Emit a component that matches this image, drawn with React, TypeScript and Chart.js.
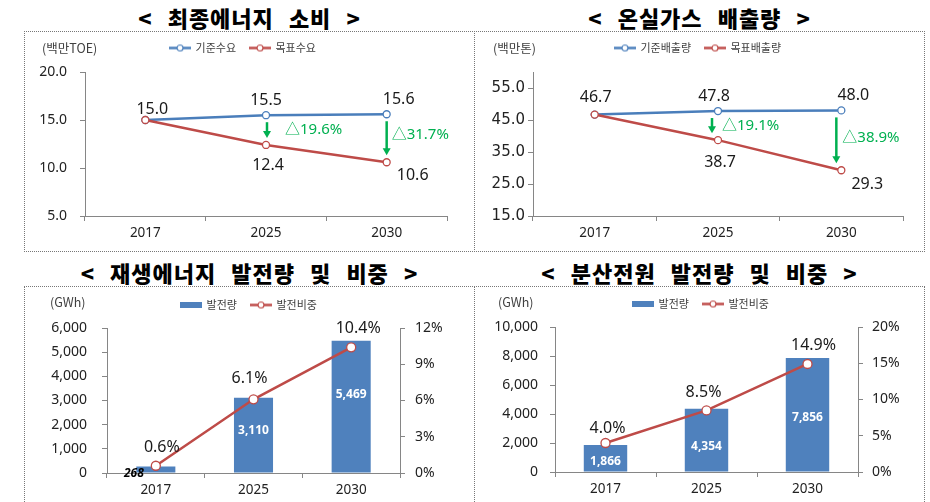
import React, { useEffect, useRef } from 'react';
import { Chart, registerables } from 'chart.js';

Chart.register(...registerables);

// ---------------- data ----------------
const years = ['2017', '2025', '2030'];

const energyTitle = '< 최종에너지 소비 >';
const energyUnit = '(백만TOE)';
const energySeries = ['기준수요', '목표수요'];
const energyBase = [15.0, 15.5, 15.6];
const energyTarget = [15.0, 12.4, 10.6];
const energyCut = ['', '△19.6%', '△31.7%'];
const energyRange = [5, 20];
const energyTicks = [5, 10, 15, 20];

const ghgTitle = '< 온실가스 배출량 >';
const ghgUnit = '(백만톤)';
const ghgSeries = ['기준배출량', '목표배출량'];
const ghgBase = [46.7, 47.8, 48.0];
const ghgTarget = [46.7, 38.7, 29.3];
const ghgCut = ['', '△19.1%', '△38.9%'];
const ghgRange = [15, 60];
const ghgTicks = [15, 25, 35, 45, 55];

const genUnit = '(GWh)';
const genSeries = ['발전량', '발전비중'];

const renewTitle = '< 재생에너지 발전량 및 비중 >';
const renewGen = [268, 3110, 5469];
const renewShare = [0.6, 6.1, 10.4];
const renewGenTicks = [0, 1000, 2000, 3000, 4000, 5000, 6000];
const renewShareTicks = [0, 3, 6, 9, 12];

const distTitle = '< 분산전원 발전량 및 비중 >';
const distGen = [1866, 4354, 7856];
const distShare = [4.0, 8.5, 14.9];
const distGenTicks = [0, 2000, 4000, 6000, 8000, 10000];
const distShareTicks = [0, 5, 10, 15, 20];

// ---------------- styles ----------------
const FONT = '"Noto Sans", "Noto Sans CJK KR", sans-serif';
const KFONT = '"Noto Sans CJK KR", "Noto Sans", sans-serif';
const WFONT = '"DejaVu Sans", "Noto Sans", sans-serif';
const BLUE = '#4A7EBB';
const RED = '#BE4B48';
const BAR = '#4F81BD';
const GREEN = '#00B050';
const AXIS = '#868686';
const TICK = '#222222';
const LABEL = '#1a1a1a';

function lineSymbol(color: string) {
  const c = document.createElement('canvas');
  c.width = 22;
  c.height = 9;
  const g = c.getContext('2d')!;
  g.strokeStyle = color;
  g.lineWidth = 2.5;
  g.beginPath();
  g.moveTo(0, 4.5);
  g.lineTo(22, 4.5);
  g.stroke();
  g.beginPath();
  g.arc(11, 4.5, 3, 0, Math.PI * 2);
  g.fillStyle = '#fff';
  g.fill();
  g.lineWidth = 1.2;
  g.stroke();
  return c;
}

function barSymbol(color: string) {
  const c = document.createElement('canvas');
  c.width = 22;
  c.height = 6;
  const g = c.getContext('2d')!;
  g.fillStyle = color;
  g.fillRect(0, 0, 22, 6);
  return c;
}

function legendOpts(symbols: any[]) {
  return {
    display: true,
    position: 'top',
    align: 'center',
    labels: {
      usePointStyle: true,
      pointStyleWidth: 20,
      padding: 14,
      font: { family: KFONT, size: 11 },
      color: '#404040',
      sort: (a: any, b: any) => a.datasetIndex - b.datasetIndex,
      generateLabels: (chart: any) => {
        const items = (Chart as any).defaults.plugins.legend.labels.generateLabels(chart);
        items.forEach((it: any) => {
          it.pointStyle = symbols[it.datasetIndex];
        });
        return items;
      },
    },
  };
}

function makeAnnot(cfg: any) {
  return {
    id: 'annot',
    afterLayout(chart: any) {
      const lg = chart.legend;
      if (lg && cfg.legendShift) {
        const [dx, dy] = cfg.legendShift;
        lg.left += dx;
        lg.right += dx;
        lg.top += dy;
        lg.bottom += dy;
      }
    },
    afterDatasetsDraw(chart: any) {
      const ctx = chart.ctx;
      ctx.save();
      ctx.textAlign = 'center';
      ctx.textBaseline = 'middle';
      // bar value labels
      (cfg.barLabels || []).forEach((bl: any) => {
        const meta = chart.getDatasetMeta(bl.ds);
        const vals = chart.data.datasets[bl.ds].data;
        meta.data.forEach((el: any, j: number) => {
          const off = bl.offsets[j];
          if (!off) return;
          const h = el.base - el.y;
          if (h < 15) {
            ctx.font = `italic bold 12px ${FONT}`;
            ctx.fillStyle = '#000';
          } else {
            ctx.font = `bold 12px ${FONT}`;
            ctx.fillStyle = '#fff';
          }
          ctx.fillText(Number(vals[j]).toLocaleString('en-US'), el.x + off[0], (el.y + el.base) / 2 + off[1]);
        });
      });
      // point labels
      (cfg.pointLabels || []).forEach((pl: any) => {
        const meta = chart.getDatasetMeta(pl.ds);
        const vals = chart.data.datasets[pl.ds].data;
        ctx.font = `16px ${FONT}`;
        ctx.fillStyle = LABEL;
        meta.data.forEach((el: any, j: number) => {
          const off = pl.offsets[j];
          if (!off) return;
          ctx.fillText(pl.fmt(vals[j]), el.x + off[0], el.y + off[1]);
        });
      });
      // arrows
      if (cfg.arrows) {
        const a = cfg.arrows;
        const mf = chart.getDatasetMeta(a.from);
        const mt = chart.getDatasetMeta(a.to);
        a.texts.forEach((t: string, j: number) => {
          if (!t) return;
          const x = mf.data[j].x + a.dx[j];
          const y1 = mf.data[j].y + 7;
          const y2 = mt.data[j].y - 7;
          ctx.strokeStyle = GREEN;
          ctx.fillStyle = GREEN;
          ctx.lineWidth = 2.5;
          ctx.beginPath();
          ctx.moveTo(x, y1);
          ctx.lineTo(x, y2 - 6);
          ctx.stroke();
          ctx.beginPath();
          ctx.moveTo(x - 4, y2 - 7);
          ctx.lineTo(x + 4, y2 - 7);
          ctx.lineTo(x, y2);
          ctx.closePath();
          ctx.fill();
          const off = a.textOff[j];
          ctx.font = `15px ${FONT}`;
          ctx.textAlign = 'left';
          ctx.fillText(t, x + off[0], (y1 + y2) / 2 + off[1]);
          ctx.textAlign = 'center';
        });
      }
      // unit
      if (cfg.unit) {
        ctx.font = `12.5px ${KFONT}`;
        ctx.fillStyle = '#404040';
        ctx.textAlign = 'left';
        ctx.fillText(cfg.unit.text, cfg.unit.x, cfg.unit.y);
      }
      ctx.restore();
    },
  };
}

function xScale(height: number) {
  return {
    type: 'category',
    offset: true,
    grid: { display: true, drawOnChartArea: false, drawTicks: true, tickLength: 5, color: AXIS, offset: true },
    border: { display: true, color: AXIS, width: 1 },
    ticks: { font: { family: FONT, size: 13.5 }, color: TICK, padding: 4, maxRotation: 0, autoSkip: false },
    afterFit: (s: any) => {
      s.height = height;
    },
  };
}

function yScale(o: any) {
  return {
    type: 'linear',
    position: o.position,
    min: o.min,
    max: o.max,
    afterBuildTicks: (s: any) => {
      s.ticks = o.ticks.map((v: number) => ({ value: v }));
    },
    ticks: { callback: o.fmt, padding: o.pad, font: o.font || { family: FONT, size: 14 }, color: TICK, autoSkip: false },
    grid: { display: true, drawOnChartArea: false, drawTicks: true, tickLength: 5, color: AXIS },
    border: { display: true, color: AXIS, width: 1 },
    afterFit: (s: any) => {
      s.width = o.width;
    },
  };
}

function makeLineChart(o: any) {
  const symbols = [lineSymbol(BLUE), lineSymbol(RED)];
  const fmt1 = (v: number) => Number(v).toFixed(1);
  return {
    type: 'line',
    data: {
      labels: years,
      datasets: [
        {
          label: o.series[0], data: o.base, borderColor: BLUE, backgroundColor: BLUE, borderWidth: 2.5,
          pointRadius: 3.5, pointBorderWidth: 1.3, pointBackgroundColor: '#fff', pointBorderColor: BLUE, tension: 0, order: 1,
        },
        {
          label: o.series[1], data: o.target, borderColor: RED, backgroundColor: RED, borderWidth: 2.5,
          pointRadius: 3.5, pointBorderWidth: 1.3, pointBackgroundColor: '#fff', pointBorderColor: RED, tension: 0, order: 0,
        },
      ],
    },
    options: {
      responsive: false,
      animation: false,
      events: [],
      layout: { padding: o.padding },
      scales: {
        x: xScale(o.xHeight),
        y: yScale({
          position: 'left', min: o.range[0], max: o.range[1], ticks: o.ticks, fmt: fmt1, pad: o.yPad,
          width: o.yWidth, font: o.yFont,
        }),
      },
      plugins: { legend: legendOpts(symbols), tooltip: { enabled: false } },
    },
    plugins: [
      makeAnnot({
        legendShift: o.legendShift,
        unit: o.unit,
        pointLabels: [
          { ds: 0, offsets: o.baseOff, fmt: fmt1 },
          { ds: 1, offsets: o.targetOff, fmt: fmt1 },
        ],
        arrows: { from: 0, to: 1, texts: o.cut, dx: o.arrowDx, textOff: o.cutOff },
      }),
    ],
  };
}

function makeBarChart(o: any) {
  const symbols = [barSymbol(BAR), lineSymbol(RED)];
  return {
    type: 'bar',
    data: {
      labels: years,
      datasets: [
        {
          type: 'bar', label: o.series[0], data: o.gen, backgroundColor: BAR, borderWidth: 0,
          barPercentage: o.barPct, categoryPercentage: 1, yAxisID: 'y', order: 1,
        },
        {
          type: 'line', label: o.series[1], data: o.share, borderColor: RED, backgroundColor: RED, borderWidth: 2.5,
          pointRadius: 4.5, pointBorderWidth: 1.3, pointBackgroundColor: '#fff', pointBorderColor: RED,
          tension: 0, yAxisID: 'y2', order: 0,
        },
      ],
    },
    options: {
      responsive: false,
      animation: false,
      events: [],
      layout: { padding: o.padding },
      scales: {
        x: xScale(o.xHeight),
        y: yScale({
          position: 'left', min: o.genTicks[0], max: o.genTicks[o.genTicks.length - 1], ticks: o.genTicks,
          fmt: (v: number) => Number(v).toLocaleString('en-US'), pad: o.yPad, width: o.yWidth,
        }),
        y2: yScale({
          position: 'right', min: o.shareTicks[0], max: o.shareTicks[o.shareTicks.length - 1], ticks: o.shareTicks,
          fmt: (v: number) => `${v}%`, pad: o.y2Pad, width: o.y2Width,
        }),
      },
      plugins: { legend: legendOpts(symbols), tooltip: { enabled: false } },
    },
    plugins: [
      makeAnnot({
        legendShift: o.legendShift,
        unit: o.unit,
        barLabels: [{ ds: 0, offsets: o.barOff }],
        pointLabels: [{ ds: 1, offsets: o.shareOff, fmt: (v: number) => `${Number(v).toFixed(1)}%` }],
      }),
    ],
  };
}

function ChartCanvas({ make, g }: any) {
  const ref = useRef<HTMLCanvasElement>(null);
  useEffect(() => {
    const chart = new Chart(ref.current as HTMLCanvasElement, make());
    return () => chart.destroy();
  }, []);
  return (
    <canvas
      ref={ref}
      width={g.w}
      height={g.h}
      style={{ position: 'absolute', left: g.left, top: g.top, width: g.w, height: g.h }}
    />
  );
}

const panels = [
  {
    title: energyTitle,
    box: { left: 24, top: 31, width: 451, height: 221 },
    titleTop: 4,
    g: { left: 25, top: 32, w: 448, h: 218 },
    make: () =>
      makeLineChart({
        series: energySeries, base: energyBase, target: energyTarget, cut: energyCut,
        range: energyRange, ticks: energyTicks,
        padding: { top: 5, left: 0, right: 26, bottom: 0 }, yWidth: 60, xHeight: 34, yPad: 13,
        legendShift: [7, -8.5], unit: { text: energyUnit, x: 17, y: 16 },
        baseOff: [[7, -11], [0, -15], [12, -15]],
        targetOff: [null, [2, 20], [26, 13]],
        arrowDx: [0, 1, 0],
        cutOff: [null, [18, 0], [5, -4]],
      }),
  },
  {
    title: ghgTitle,
    box: { left: 474, top: 31, width: 451, height: 221 },
    titleTop: 4,
    g: { left: 475, top: 32, w: 448, h: 218 },
    make: () =>
      makeLineChart({
        series: ghgSeries, base: ghgBase, target: ghgTarget, cut: ghgCut,
        range: ghgRange, ticks: ghgTicks,
        padding: { top: 5, left: 0, right: 20, bottom: 0 }, yWidth: 58, xHeight: 34, yPad: 3,
        yFont: { family: WFONT, size: 15 },
        legendShift: [9, -8.5], unit: { text: ghgUnit, x: 18, y: 16 },
        baseOff: [[1, -17], [-4, -15], [12, -15]],
        targetOff: [null, [2, 22], [26, 14]],
        arrowDx: [0, -6, -5],
        cutOff: [null, [10, 0], [6, -3]],
      }),
  },
  {
    title: renewTitle,
    box: { left: 24, top: 286, width: 451, height: 240 },
    titleTop: 259,
    g: { left: 25, top: 287, w: 448, h: 215 },
    make: () =>
      makeBarChart({
        series: genSeries, gen: renewGen, share: renewShare, genTicks: renewGenTicks, shareTicks: renewShareTicks,
        barPct: 0.4,
        padding: { top: 6, left: 0, right: 0, bottom: 0 }, yWidth: 82, y2Width: 73, xHeight: 29, yPad: 15, y2Pad: 10,
        legendShift: [0, -7.5], unit: { text: genUnit, x: 25, y: 15 },
        barOff: [[-22, 4], [0, -5], [0, -12]],
        shareOff: [[6, -18], [-4, -21], [7, -19]],
      }),
  },
  {
    title: distTitle,
    box: { left: 474, top: 286, width: 451, height: 240 },
    titleTop: 259,
    g: { left: 475, top: 287, w: 448, h: 215 },
    make: () =>
      makeBarChart({
        series: genSeries, gen: distGen, share: distShare, genTicks: distGenTicks, shareTicks: distShareTicks,
        barPct: 0.43,
        padding: { top: 5, left: 0, right: 0, bottom: 0 }, yWidth: 80, y2Width: 65, xHeight: 30, yPad: 12, y2Pad: 9,
        legendShift: [2, -7.5], unit: { text: genUnit, x: 23, y: 15 },
        barOff: [[0, 3.5], [0, 6.5], [0, 3]],
        shareOff: [[2, -15], [-3, -18], [6, -19]],
      }),
  },
];

export default function App() {
  return (
    <div
      style={{
        position: 'absolute', left: 0, top: 0, width: 930, height: 502,
        overflow: 'hidden', background: '#fff',
      }}
    >
      {panels.map((p, i) => (
        <React.Fragment key={i}>
          <div
            style={{
              position: 'absolute', left: p.box.left, top: p.titleTop, width: p.box.width,
              textAlign: 'center', fontFamily: KFONT, fontWeight: 900, fontSize: 22,
              lineHeight: '26px', letterSpacing: 1, wordSpacing: 9, color: '#000', whiteSpace: 'pre',
            }}
          >
            {p.title}
          </div>
          <div
            style={{
              position: 'absolute', left: p.box.left, top: p.box.top, width: p.box.width,
              height: p.box.height, border: '1px dotted #777', boxSizing: 'border-box',
            }}
          />
          <ChartCanvas make={p.make} g={p.g} />
        </React.Fragment>
      ))}
    </div>
  );
}
